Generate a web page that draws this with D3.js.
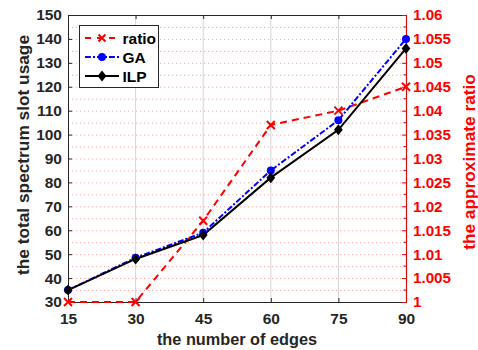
<!DOCTYPE html>
<html><head><meta charset="utf-8">
<script src="https://cdn.jsdelivr.net/npm/d3@7"></script>
<style>body{margin:0;background:#fff}svg{display:block}text{font-family:"Liberation Sans",Arial,sans-serif;font-weight:bold}</style>
</head><body>
<svg id="c" width="478" height="350"></svg>
<script>
const edges = [15, 30, 45, 60, 75, 90];
const ilp = [35, 48, 58, 82, 102, 136];
const ga = [35, 48.5, 59, 85, 106, 140];
const ratio = [1, 1, 1.017, 1.037, 1.040, 1.045];
const leftTicks = [30,40,50,60,70,80,90,100,110,120,130,140,150];
const rightTicks = [1,1.005,1.01,1.015,1.02,1.025,1.03,1.035,1.04,1.045,1.05,1.055,1.06];
const rightLabels = ["1","1.005","1.01","1.015","1.02","1.025","1.03","1.035","1.04","1.045","1.05","1.055","1.06"];

const svg = d3.select("#c");
const L=68, R=406, T=15, B=302;
const x = d3.scaleLinear().domain([15,90]).range([L,R]);
const yL = d3.scaleLinear().domain([30,150]).range([B,T]);
const yR = d3.scaleLinear().domain([1,1.06]).range([B,T]);
const gray="#262626";
const FF="Liberation Sans, Arial";

// vertical grid
svg.append("g").selectAll("line").data(edges.slice(1,-1)).join("line")
 .attr("x1",d=>x(d)).attr("x2",d=>x(d)).attr("y1",T).attr("y2",B)
 .attr("stroke","#d4d4d4").attr("stroke-width",1);
// horizontal dotted grid (major + minor)
const hg = d3.range(35,150,5);
svg.append("g").selectAll("line").data(hg).join("line")
 .attr("x1",L).attr("x2",R).attr("y1",d=>yL(d)+0.5).attr("y2",d=>yL(d)+0.5)
 .attr("stroke","#f0a8a8").attr("stroke-width",1).attr("stroke-dasharray","1.2,2.8");

// axes
const ax = d3.axisBottom(x).tickValues(edges).tickSize(-4).tickPadding(11).tickFormat(d3.format("d"));
const gx = svg.append("g").attr("transform",`translate(0,${B})`).call(ax);
gx.select(".domain").attr("stroke",gray);
gx.selectAll(".tick line").attr("stroke",gray);
gx.selectAll("text").attr("fill",gray).attr("font-size",15.5).attr("font-family",FF).attr("font-weight","bold");
const gt = svg.append("g").attr("transform",`translate(0,${T})`).call(d3.axisTop(x).tickValues(edges).tickSize(-4).tickFormat(""));
gt.select(".domain").attr("stroke",gray);
gt.selectAll(".tick line").attr("stroke",gray);

const gyl = svg.append("g").attr("transform",`translate(${L},0)`).call(d3.axisLeft(yL).tickValues(leftTicks).tickSize(-4).tickPadding(6));
gyl.select(".domain").attr("stroke",gray);
gyl.selectAll(".tick line").attr("stroke",gray);
gyl.selectAll("text").attr("fill",gray).attr("font-size",15.5).attr("font-family",FF).attr("font-weight","bold");

const gyr = svg.append("g").attr("transform",`translate(${R},0)`).call(d3.axisRight(yR).tickValues(rightTicks).tickSize(-4).tickPadding(7).tickFormat((d,i)=>rightLabels[i]));
gyr.select(".domain").attr("stroke","#d01010").attr("stroke-width",1.2);
gyr.selectAll(".tick line").attr("stroke","#d01010");
gyr.selectAll("text").attr("fill","#ff0000").attr("font-size",15.2).attr("font-family",FF).attr("font-weight","bold");
// right minor ticks
svg.append("g").selectAll("line").data(d3.range(1.0025,1.06,0.005)).join("line")
 .attr("x1",R).attr("x2",R-2.5).attr("y1",d=>yR(d)).attr("y2",d=>yR(d)).attr("stroke","#d01010");

// lines
const lineL = d3.line().x((d,i)=>x(edges[i])).y(d=>yL(d));
const lineR = d3.line().x((d,i)=>x(edges[i])).y(d=>yR(d));
svg.append("path").attr("d",lineR(ratio)).attr("fill","none").attr("stroke","#ff0000").attr("stroke-width",2).attr("stroke-dasharray","7,5");
svg.append("path").attr("d",lineL(ga)).attr("fill","none").attr("stroke","#0000ff").attr("stroke-width",2).attr("stroke-dasharray","6,2,2,2");
svg.append("path").attr("d",lineL(ilp)).attr("fill","none").attr("stroke","#000").attr("stroke-width",2);

function cross(g,cx,cy,s){g.append("path").attr("d",`M${cx-s},${cy-s}L${cx+s},${cy+s}M${cx-s},${cy+s}L${cx+s},${cy-s}`).attr("stroke","#ff0000").attr("stroke-width",2).attr("fill","none");}
function diamond(g,cx,cy,s){g.append("path").attr("d",`M${cx},${cy-s}L${cx+s*0.8},${cy}L${cx},${cy+s}L${cx-s*0.8},${cy}Z`).attr("fill","#000");}
const mk = svg.append("g");
ratio.forEach((v,i)=>cross(mk,x(edges[i]),yR(v),4));
ga.forEach((v,i)=>mk.append("circle").attr("cx",x(edges[i])).attr("cy",yL(v)).attr("r",4).attr("fill","#0000ff"));
ilp.forEach((v,i)=>diamond(mk,x(edges[i]),yL(v),5.5));

// legend
const lg = svg.append("g");
lg.append("rect").attr("x",79.5).attr("y",25.5).attr("width",79).attr("height",62).attr("fill","#fff").attr("stroke",gray).attr("stroke-width",1);
const items=[{n:"ratio",y:38},{n:"GA",y:57},{n:"ILP",y:76}];
lg.append("line").attr("x1",85).attr("x2",119).attr("y1",38).attr("y2",38).attr("stroke","#ff0000").attr("stroke-width",2).attr("stroke-dasharray","6,6");
cross(lg,102,38,3.5);
lg.append("line").attr("x1",85).attr("x2",119).attr("y1",57).attr("y2",57).attr("stroke","#0000ff").attr("stroke-width",2).attr("stroke-dasharray","6,2,2,2");
lg.append("circle").attr("cx",102).attr("cy",57).attr("r",4).attr("fill","#0000ff");
lg.append("line").attr("x1",85).attr("x2",119).attr("y1",76).attr("y2",76).attr("stroke","#000").attr("stroke-width",2);
diamond(lg,102,76,5.5);
items.forEach(it=>lg.append("text").attr("x",122.5).attr("y",it.y+5.5).attr("font-size",15.5).attr("fill","#000").text(it.n));

// axis titles
svg.append("text").attr("x",237).attr("y",345).attr("text-anchor","middle").attr("font-size",16.3).attr("fill",gray).text("the number of edges");
svg.append("text").attr("transform",`translate(29,155) rotate(-90)`).attr("text-anchor","middle").attr("font-size",17.3).attr("fill",gray).text("the total spectrum slot usage");
svg.append("text").attr("transform",`translate(475,162) rotate(-90)`).attr("text-anchor","middle").attr("font-size",17.3).attr("fill","#ff0000").text("the approximate ratio");
</script>
</body></html>
